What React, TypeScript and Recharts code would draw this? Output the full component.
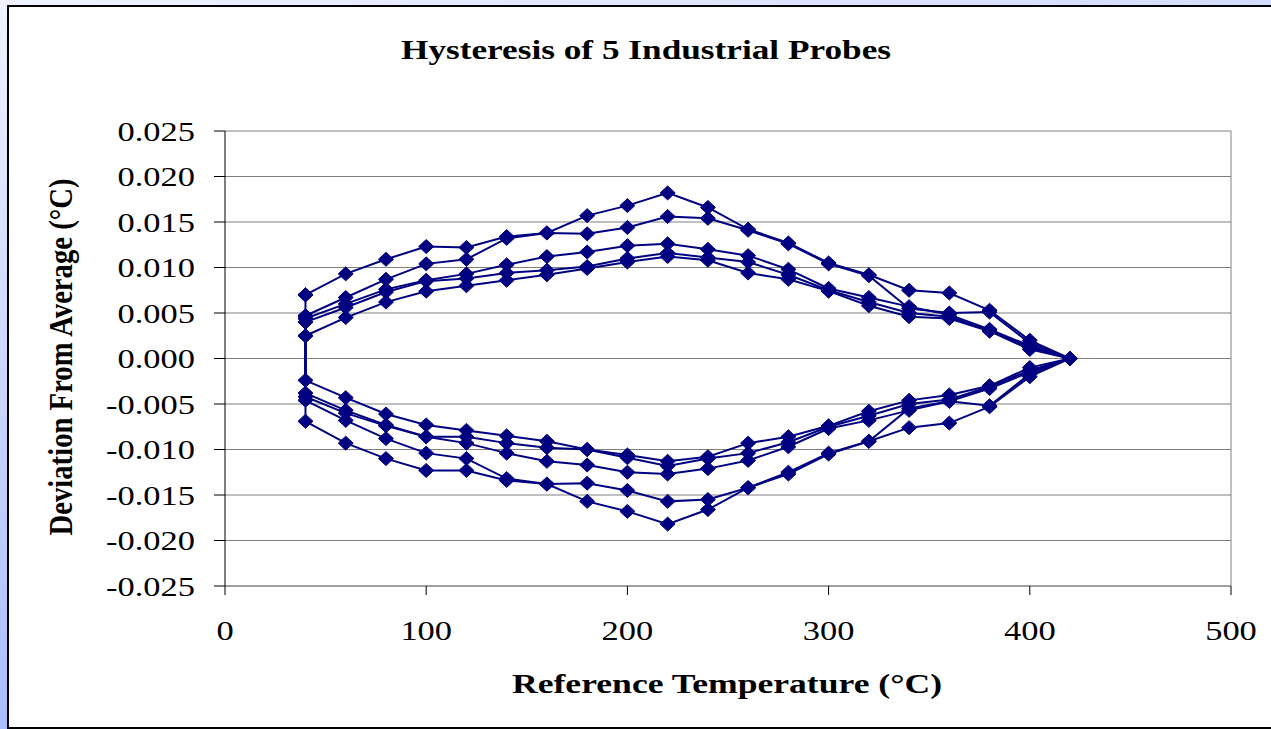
import React from 'react'
import { LineChart, Line, XAxis, YAxis, CartesianGrid, ReferenceLine } from 'recharts'

// temperatures on the way up and on the way back down
const tempUp = [40, 60, 80, 100, 120, 140, 160, 180, 200, 220, 240, 260, 280, 300, 320, 340, 360, 380, 400, 420]
const tempDown = [400, 380, 360, 340, 320, 300, 280, 260, 240, 220, 200, 180, 160, 140, 120, 100, 80, 60, 40]

const probe1Up = [0.007, 0.0093, 0.0109, 0.0123, 0.0122, 0.0134, 0.0138, 0.0157, 0.0168, 0.0182, 0.0166, 0.0142, 0.0127, 0.0105, 0.0092, 0.0075, 0.0072, 0.0053, 0.002, 0]
const probe2Up = [0.0047, 0.0067, 0.0087, 0.0104, 0.0109, 0.0132, 0.0138, 0.0137, 0.0144, 0.0156, 0.0154, 0.0141, 0.0126, 0.0104, 0.0091, 0.0055, 0.005, 0.0051, 0.0017, 0]
const probe3Up = [0.0044, 0.006, 0.0076, 0.0086, 0.0093, 0.0103, 0.0112, 0.0117, 0.0124, 0.0126, 0.012, 0.0113, 0.0098, 0.0077, 0.0067, 0.0057, 0.0048, 0.0032, 0.0014, 0]
const probe4Up = [0.004, 0.0056, 0.0073, 0.0085, 0.0088, 0.0094, 0.0097, 0.0101, 0.011, 0.0116, 0.0111, 0.0106, 0.0092, 0.0075, 0.0062, 0.005, 0.0046, 0.0031, 0.0012, 0]
const probe5Up = [0.0025, 0.0045, 0.0062, 0.0074, 0.008, 0.0086, 0.0092, 0.0099, 0.0106, 0.0112, 0.0108, 0.0094, 0.0087, 0.0074, 0.0058, 0.0046, 0.0044, 0.003, 0.001, 0]

const probe1Down = [-0.002, -0.0053, -0.0071, -0.0076, -0.0091, -0.0105, -0.0127, -0.0142, -0.0166, -0.0182, -0.0168, -0.0157, -0.0138, -0.0134, -0.0123, -0.0123, -0.011, -0.0093, -0.0069]
const probe2Down = [-0.0017, -0.0052, -0.0047, -0.0055, -0.0091, -0.0104, -0.0125, -0.0142, -0.0155, -0.0157, -0.0145, -0.0137, -0.0138, -0.0132, -0.011, -0.0104, -0.0088, -0.0068, -0.0046]
const probe3Down = [-0.0015, -0.0033, -0.0047, -0.0057, -0.0068, -0.0077, -0.0097, -0.0112, -0.0121, -0.0127, -0.0125, -0.0117, -0.0113, -0.0104, -0.0093, -0.0086, -0.0074, -0.006, -0.0042]
const probe4Down = [-0.0013, -0.0031, -0.0045, -0.005, -0.0063, -0.0075, -0.0092, -0.0104, -0.011, -0.0118, -0.0109, -0.01, -0.0098, -0.0093, -0.0086, -0.0086, -0.0073, -0.0057, -0.0038]
const probe5Down = [-0.001, -0.003, -0.004, -0.0046, -0.0058, -0.0074, -0.0086, -0.0093, -0.0108, -0.0113, -0.0106, -0.01, -0.0091, -0.0085, -0.0079, -0.0073, -0.0061, -0.0043, -0.0024]

const xTicks = [0, 100, 200, 300, 400, 500]
const yTicks = [-0.025, -0.02, -0.015, -0.01, -0.005, 0, 0.005, 0.01, 0.015, 0.02, 0.025]

const NAVY = '#000080'
const FONT = '"Liberation Serif", "Times New Roman", serif'

// one closed loop: up branch, down branch, then back to the first point
function loop(up: number[], down: number[]) {
  const pts = tempUp.map((t, i) => ({ x: t, y: up[i] }))
  down.forEach((v, i) => pts.push({ x: tempDown[i], y: v }))
  pts.push({ x: tempUp[0], y: up[0] })
  return pts
}

const probes = [
  loop(probe1Up, probe1Down),
  loop(probe2Up, probe2Down),
  loop(probe3Up, probe3Down),
  loop(probe4Up, probe4Down),
  loop(probe5Up, probe5Down),
]

function Diamond(props: any) {
  const { cx, cy } = props
  if (cx == null || cy == null) return null
  return (
    <path
      d={`M${cx},${cy - 7}L${cx + 7.5},${cy}L${cx},${cy + 7}L${cx - 7.5},${cy}Z`}
      fill={NAVY}
      stroke={NAVY}
      strokeWidth={1}
    />
  )
}

function YTick({ x, y, payload }: any) {
  return (
    <text
      transform={`translate(${x},${y + 9.5}) scale(1.23,1)`}
      textAnchor="end"
      fontFamily={FONT}
      fontSize={28}
      fill="#000"
    >
      {Number(payload.value).toFixed(3)}
    </text>
  )
}

function XTick({ x, y, payload }: any) {
  return (
    <text
      transform={`translate(${x},${y + 45}) scale(1.23,1)`}
      textAnchor="middle"
      fontFamily={FONT}
      fontSize={28}
      fill="#000"
    >
      {payload.value}
    </text>
  )
}

const XTitle = () => (
  <text x={718} y={686} textAnchor="middle" fontFamily={FONT} fontSize={28} fontWeight="bold" fill="#000"
    textLength={430} lengthAdjust="spacingAndGlyphs">
    Reference Temperature (°C)
  </text>
)

const YTitle = () => (
  <text transform="translate(63,350) scale(1.23,1) rotate(-90)" textAnchor="middle" fontFamily={FONT} fontSize={28}
    fontWeight="bold" fill="#000" textLength={357} lengthAdjust="spacingAndGlyphs">
    Deviation From Average (°C)
  </text>
)

export default function App() {
  return (
    <div>
      <style>{`html,body{margin:0;overflow:hidden;height:100%;background:linear-gradient(167deg,#f0f2fe 0%,#8ea6fb 100%);}`}</style>
      <div
        style={{
          position: 'absolute',
          left: 7,
          top: 5,
          width: 1280,
          height: 724,
          boxSizing: 'border-box',
          border: '2px solid #000',
          borderRight: 'none',
          background: '#fff',
        }}
      >
        <svg width={1262} height={120} style={{ position: 'absolute', left: 0, top: 0 }}>
          <text x={637} y={52} textAnchor="middle" fontFamily={FONT} fontSize={28} fontWeight="bold" fill="#000"
            textLength={490} lengthAdjust="spacingAndGlyphs">
            Hysteresis of 5 Industrial Probes
          </text>
        </svg>
        <LineChart width={1262} height={719} margin={{ top: 124, right: 40, left: 0, bottom: 40 }}>
          <CartesianGrid vertical={false} stroke="#808080" />
          <XAxis
            type="number"
            dataKey="x"
            domain={[0, 500]}
            ticks={xTicks}
            height={100}
            tickSize={9}
            tickMargin={0}
            tick={<XTick />}
            axisLine={{ stroke: '#808080' }}
            tickLine={{ stroke: '#000' }}
            label={{ content: XTitle }}
          />
          <YAxis
            type="number"
            domain={[-0.025, 0.025]}
            ticks={yTicks}
            width={216}
            tickSize={11}
            tickMargin={19}
            tick={<YTick />}
            axisLine={{ stroke: '#000' }}
            tickLine={{ stroke: '#000' }}
            label={{ content: YTitle }}
          />
          <ReferenceLine x={500} stroke="#808080" />
          {probes.map((data, i) => (
            <Line
              key={i}
              data={data}
              dataKey="y"
              type="linear"
              stroke={NAVY}
              strokeWidth={2}
              dot={<Diamond />}
              activeDot={false}
              isAnimationActive={false}
            />
          ))}
        </LineChart>
      </div>
    </div>
  )
}
